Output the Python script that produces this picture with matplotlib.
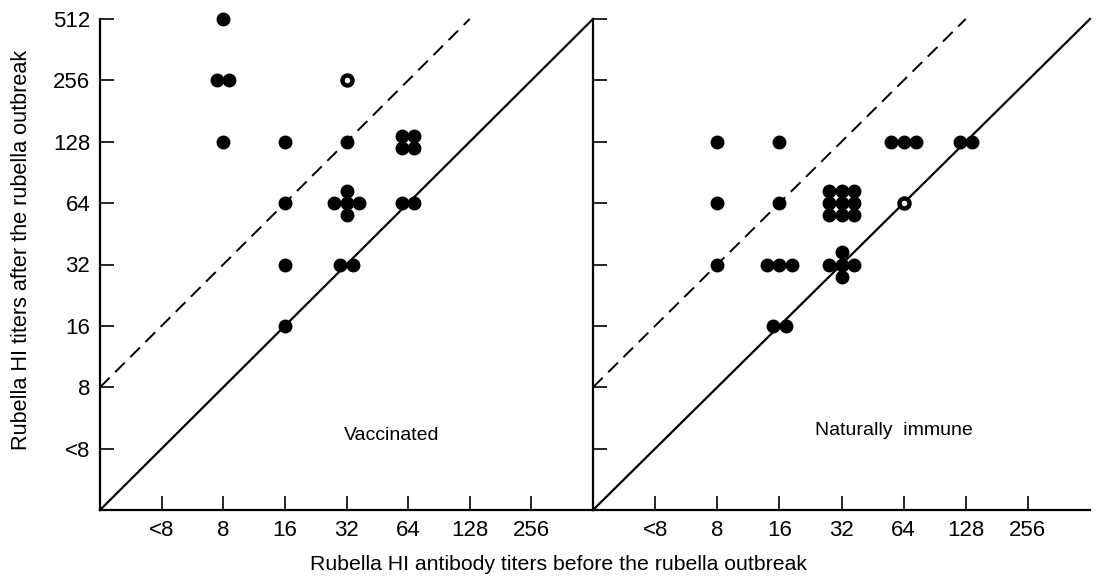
import numpy as np
import matplotlib
matplotlib.use("Agg")
import matplotlib.pyplot as plt

plt.rcParams['font.family'] = ['Liberation Sans', 'DejaVu Sans']

# titer axis: "<8" is drawn at the position of 4
tick_vals = [4, 8, 16, 32, 64, 128, 256]
x_tick_labels = ['<8', '8', '16', '32', '64', '128', '256']
y_tick_vals = [4, 8, 16, 32, 64, 128, 256, 512]
y_tick_labels = ['<8', '8', '16', '32', '64', '128', '256', '512']

# Vaccinated (before, after, number of persons)
vacc_before = [8, 8, 8, 16, 32, 64, 16, 32, 64, 16, 32, 16]
vacc_after = [512, 256, 128, 128, 128, 128, 64, 64, 64, 32, 32, 16]
vacc_count = [1, 2, 1, 1, 1, 4, 1, 5, 2, 1, 2, 1]
vacc_open_before = [32]
vacc_open_after = [256]

# Naturally immune
nat_before = [8, 16, 64, 128, 8, 16, 32, 8, 16, 32, 16]
nat_after = [128, 128, 128, 128, 64, 64, 64, 32, 32, 32, 16]
nat_count = [1, 1, 3, 2, 1, 1, 9, 1, 3, 5, 2]
nat_open_before = [64]
nat_open_after = [64]


def cluster(n):
    # offsets (in log2 units / step) for n overlapping persons
    if n == 1:
        return [(0, 0)]
    if n == 2:
        return [(-0.5, 0), (0.5, 0)]
    if n == 3:
        return [(-1, 0), (0, 0), (1, 0)]
    if n == 4:
        return [(-0.5, -0.5), (0.5, -0.5), (-0.5, 0.5), (0.5, 0.5)]
    if n == 5:
        return [(0, 0), (-1, 0), (1, 0), (0, -1), (0, 1)]
    return [(i, j) for i in (-1, 0, 1) for j in (-1, 0, 1)]


def draw_panel(ax, before, after, count, ob, oa, label, lx, ly, show_labels):
    ax.set_xscale('log', base=2)
    ax.set_yscale('log', base=2)
    ax.set_xlim(2, 512)
    ax.set_ylim(2, 512)
    ax.plot([2, 512], [2, 512], color='black', lw=1.6, clip_on=False)
    ax.plot([2, 128], [8, 512], color='black', lw=1.4, dashes=(7, 4), clip_on=False)

    step = 0.2
    xs, ys = [], []
    for b, a, n in zip(before, after, count):
        for dx, dy in cluster(n):
            xs.append(b * 2 ** (dx * step))
            ys.append(a * 2 ** (dy * step))
    ax.plot(xs, ys, 'o', color='black', ms=9, clip_on=False, zorder=3)
    ax.plot(ob, oa, 'o', mfc='white', mec='black', mew=3.2, ms=7.2, clip_on=False, zorder=3)

    for s in ['top', 'right']:
        ax.spines[s].set_visible(False)
    for s in ['left', 'bottom']:
        ax.spines[s].set_linewidth(1.6)

    ax.set_xticks(tick_vals)
    ax.set_xticklabels(x_tick_labels)
    ax.set_yticks(y_tick_vals)
    if show_labels:
        ax.set_yticklabels(y_tick_labels)
    else:
        ax.set_yticklabels([])
    ax.minorticks_off()
    ax.tick_params(direction='in', length=10, width=1.2, labelsize=16, pad=7)
    ax.text(lx, ly, label, transform=ax.transAxes, fontsize=14, ha='center', va='center')


fig = plt.figure(figsize=(11.02, 5.8), dpi=100)
ax1 = fig.add_axes([100 / 1102, 70 / 580, 493 / 1102, 491 / 580])
ax2 = fig.add_axes([593 / 1102, 70 / 580, 497 / 1102, 491 / 580])

draw_panel(ax1, vacc_before, vacc_after, vacc_count, vacc_open_before, vacc_open_after,
           'Vaccinated', 0.592, 0.152, True)
draw_panel(ax2, nat_before, nat_after, nat_count, nat_open_before, nat_open_after,
           'Naturally  immune', 0.606, 0.162, False)

fig.text(559 / 1102, 1 - 565 / 580, 'Rubella HI antibody titers before the rubella outbreak',
         ha='center', va='center', fontsize=15.3)
fig.text(22 / 1102, 1 - 250 / 580, 'Rubella HI titers after the rubella outbreak',
         ha='center', va='center', rotation=90, fontsize=15.6)

fig.savefig('out.png', dpi=100)
